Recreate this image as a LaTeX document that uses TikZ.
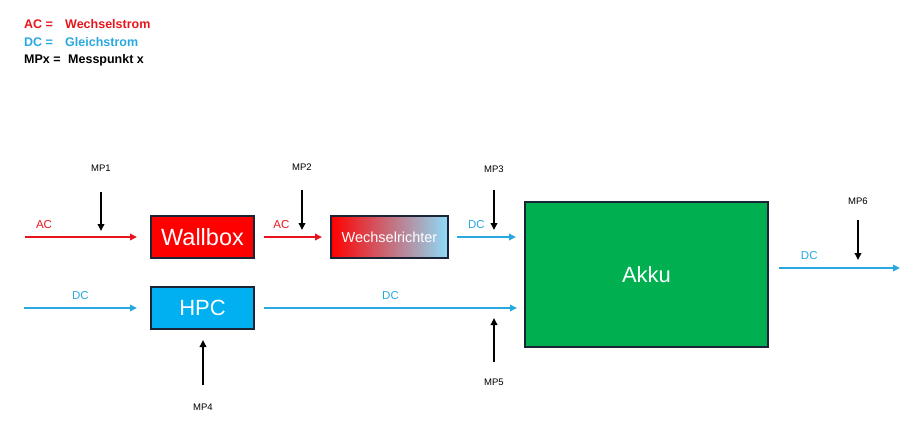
\documentclass[tikz,border=0pt]{standalone}
\usepackage{fontspec}
\setmainfont{Liberation Sans}
\usepackage{xcolor}
\usepackage{tikz}
\usetikzlibrary{shapes,arrows,arrows.meta,positioning}

\definecolor{acred}{HTML}{E8141C}
\definecolor{dcblue}{HTML}{29A8E0}
\definecolor{frame}{HTML}{1B2434}
\definecolor{akkugreen}{HTML}{00B050}
\definecolor{hpcblue}{HTML}{00B0F0}

\begin{document}
\begin{tikzpicture}[x=1pt, y=1pt, >={Triangle[length=7pt,width=6.5pt]},
    block/.style={rectangle, draw=frame, line width=2pt, inner sep=0pt, text=white},
    acline/.style={->, acred, line width=2.2pt},
    dcline/.style={->, dcblue, line width=2.2pt},
    mpline/.style={->, black, line width=2pt},
    mplabel/.style={font=\fontsize{9.5}{11}\selectfont},
    flowlabel/.style={font=\fontsize{11.5}{13}\selectfont},
    legend/.style={anchor=base west, inner sep=0pt, font=\bfseries\fontsize{12.5}{14}\selectfont}]
    \useasboundingbox (0,0) rectangle (917,-434);

    % legend
    \node (legac) [legend, text=acred] at (24,-28.5) {AC =};
    \node (legacx) [legend, text=acred] at (65,-28.5) {Wechselstrom};
    \node (legdc) [legend, text=dcblue] at (24,-46.5) {DC =};
    \node (legdcx) [legend, text=dcblue] at (65,-46.5) {Gleichstrom};
    \node (legmp) [legend] at (24,-63.5) {MPx =};
    \node (legmpx) [legend] at (68,-63.5) {Messpunkt x};

    % blocks
    \node (wallbox) [block, fill=red, minimum width=103, minimum height=42, font=\fontsize{23.5}{25}\selectfont] at (202.5,-237) {Wallbox};
    \node (wr) [block, left color=red, right color=hpcblue!45, minimum width=117, minimum height=42, font=\fontsize{14.5}{16}\selectfont] at (389.5,-237) {Wechselrichter};
    \node (hpc) [block, fill=hpcblue, minimum width=103, minimum height=42, font=\fontsize{22}{24}\selectfont] at (202.5,-308) {HPC};
    \node (akku) [block, fill=akkugreen, minimum width=243, minimum height=145, font=\fontsize{22}{24}\selectfont] at (646.5,-274.5) {Akku};

    % free ends
    \coordinate (acin) at (25,-237);
    \coordinate (dcin) at (24,-308);
    \coordinate (dcout) at (900,-268);

    % flows
    \draw[acline] (acin) -- ([xshift=-13pt]wallbox.west) node[pos=0.17, above=4pt, flowlabel] {AC};
    \draw[acline] ([xshift=9pt]wallbox.east) -- ([xshift=-8pt]wr.west) node[pos=0.3, above=4pt, flowlabel] {AC};
    \draw[dcline] ([xshift=8pt]wr.east) -- ([xshift=-8pt,yshift=37.5pt]akku.west) node[pos=0.33, above=4pt, flowlabel, text=dcblue] {DC};
    \draw[dcline] (dcin) -- ([xshift=-13pt]hpc.west) node[midway, above=4pt, flowlabel, text=dcblue] {DC};
    \draw[dcline] ([xshift=9pt]hpc.east) -- ([xshift=-7pt,yshift=-33.5pt]akku.west) node[midway, above=4pt, flowlabel, text=dcblue] {DC};
    \draw[dcline] ([xshift=10pt,yshift=6.5pt]akku.east) -- (dcout) node[pos=0.25, above=4pt, flowlabel, text=dcblue] {DC};

    % measuring points
    \node (mp1) [mplabel] at (101,-168) {MP1};
    \node (mp2) [mplabel] at (302,-167) {MP2};
    \node (mp3) [mplabel] at (494,-169) {MP3};
    \node (mp4) [mplabel] at (203,-407) {MP4};
    \node (mp5) [mplabel] at (494,-382) {MP5};
    \node (mp6) [mplabel] at (858,-201) {MP6};

    \draw[mpline] ([yshift=-24pt]mp1.center) -- ++(0,-39);
    \draw[mpline] ([yshift=-23pt]mp2.center) -- ++(0,-40);
    \draw[mpline] ([yshift=-21pt]mp3.center) -- ++(0,-40);
    \draw[mpline] ([yshift=22pt]mp4.center) -- ++(0,45);
    \draw[mpline] ([yshift=20pt]mp5.center) -- ++(0,44);
    \draw[mpline] ([yshift=-19pt]mp6.center) -- ++(0,-40);
\end{tikzpicture}
\end{document}
